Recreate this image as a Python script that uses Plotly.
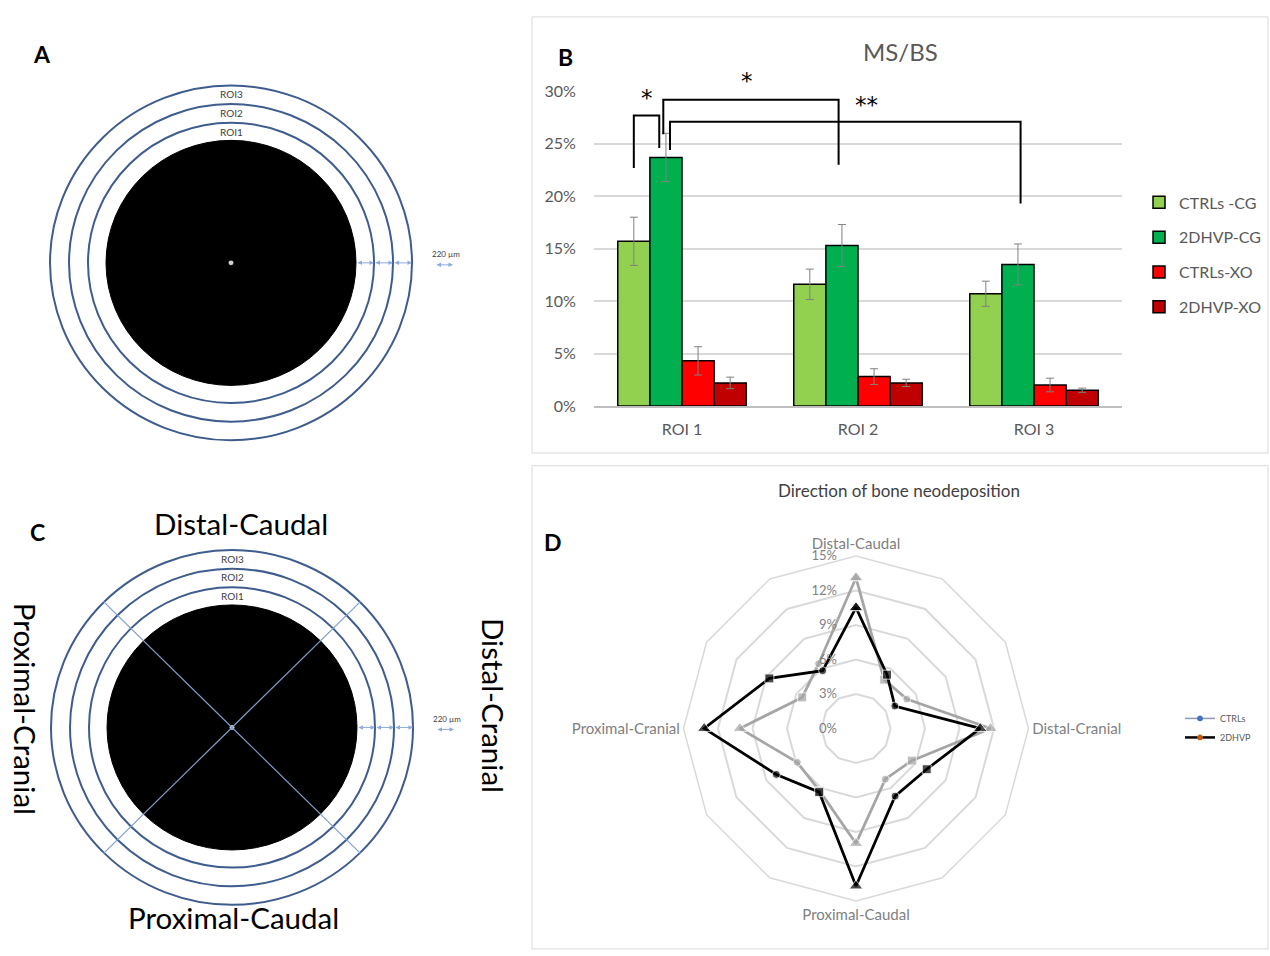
import plotly.graph_objects as go

W, H = 1270, 956
FONT = "Lato, Carlito, Calibri, sans-serif"

# ---------------- Panel B data ----------------
roi_labels = ["ROI 1", "ROI 2", "ROI 3"]
series_names = ["CTRLs -CG", "2DHVP-CG", "CTRLs-XO", "2DHVP-XO"]
ctrl_cg = [15.7, 11.6, 10.7]
ctrl_cg_err = [2.3, 1.45, 1.2]
dhvp_cg = [23.7, 15.3, 13.5]
dhvp_cg_err = [2.3, 2.0, 1.95]
ctrl_xo = [4.3, 2.8, 2.0]
ctrl_xo_err = [1.35, 0.75, 0.65]
dhvp_xo = [2.2, 2.2, 1.5]
dhvp_xo_err = [0.55, 0.35, 0.2]
bar_colors = ["#92d050", "#00b050", "#ff0000", "#c00000"]

# significance brackets: (roi, series) of left / right legs
sig_labels = ["*", "*", "**"]
sig_left = [(0, 0), (0, 1), (0, 1)]
sig_right = [(0, 1), (1, 1), (2, 1)]
sig_top = [27.7, 29.2, 27.1]
sig_left_end = [22.7, 25.9, 24.4]
sig_right_end = [24.6, 23.0, 19.3]

# ---------------- Panel D data ----------------
directions = ["Distal-Caudal", "d1", "d2", "Distal-Cranial", "d4", "d5",
              "Proximal-Caudal", "d7", "d8", "Proximal-Cranial", "d10", "d11"]
direction_labels = ["Distal-Caudal", "", "", "Distal-Cranial", "", "",
                    "Proximal-Caudal", "", "", "Proximal-Cranial", "", ""]
ctrls_radar = [13.1, 4.9, 5.1, 11.7, 5.6, 5.1, 10.0, 6.3, 5.9, 10.1, 5.4, 6.5]
dhvp_radar = [10.5, 5.4, 3.9, 10.8, 7.1, 6.8, 13.7, 6.4, 8.0, 13.2, 8.7, 5.8]
radar_symbols = ["triangle-up", "square", "circle"] * 4
radar_sizes = [12, 9, 8] * 4


def px(x):
    return x / W


def py(y):
    return 1 - y / H


fig = go.Figure()

# ---------------- Panel B: bars ----------------
series_vals = [ctrl_cg, dhvp_cg, ctrl_xo, dhvp_xo]
series_errs = [ctrl_cg_err, dhvp_cg_err, ctrl_xo_err, dhvp_xo_err]
for i, (name, vals, errs, col) in enumerate(zip(series_names, series_vals, series_errs, bar_colors)):
    fig.add_trace(go.Bar(
        x=roi_labels, y=vals, name=name, legendgroup=name,
        marker=dict(color=col, line=dict(color="black", width=1.5)),
        error_y=dict(type="data", array=errs, color="#808080", thickness=1, width=4),
        xaxis="x", yaxis="y", legend="legend",
    ))

BARGAP = 0.27
bw = (1 - BARGAP) / 4


def bar_x(roi, s):
    return roi + (s - 1.5) * bw


left_off = [0.0, -0.015, 0.023]
right_off = [-0.038, -0.019, 0.015]
star_pos = [0.5, 0.48, 0.56]
star_shift = [17, 19, 17]
shapes = []
annotations = []
for k in range(len(sig_labels)):
    xl = bar_x(*sig_left[k]) + left_off[k]
    xr = bar_x(*sig_right[k]) + right_off[k]
    yt = sig_top[k]
    path = f"M {xl},{sig_left_end[k]} L {xl},{yt} L {xr},{yt} L {xr},{sig_right_end[k]}"
    shapes.append(dict(type="path", path=path, xref="x", yref="y",
                       line=dict(color="black", width=2)))
    annotations.append(dict(x=xl + (xr - xl) * star_pos[k], y=yt, xref="x", yref="y",
                            text=sig_labels[k], showarrow=False, yanchor="middle",
                            xanchor="center", yshift=star_shift[k],
                            font=dict(size=23, color="black", family="DejaVu Sans")))

# ---------------- Panel D: radar ----------------
for name, vals, col in [("CTRLs", ctrls_radar, "#a5a5a5"), ("2DHVP", dhvp_radar, "black")]:
    fig.add_trace(go.Scatterpolar(
        r=vals + [vals[0]], theta=directions + [directions[0]],
        mode="lines+markers", name=name, showlegend=False,
        line=dict(color=col, width=2.75),
        marker=dict(symbol=radar_symbols + [radar_symbols[0]],
                    size=radar_sizes + [radar_sizes[0]], color=col),
        subplot="polar",
    ))
# legend entries of radar
for name, lcol, mcol in [("CTRLs", "#8c9bb5", "#4472c4"), ("2DHVP", "black", "#c55a11")]:
    fig.add_trace(go.Scatterpolar(
        r=[None], theta=[directions[0]], mode="lines+markers", name=name,
        line=dict(color=lcol, width=2.5 if name == "2DHVP" else 1.5),
        marker=dict(symbol="circle", size=5, color=mcol, line=dict(color=mcol, width=1)),
        subplot="polar", legend="legend2", showlegend=True,
    ))

# ---------------- Panels A & C: schematics ----------------
disk_r = 125
ring_radii = [143, 162, 181]
ring_names = ["ROI1", "ROI2", "ROI3"]
centers = {"A": (231, 258), "C": (232, 732)}
ring_col = "#3e5c8e"
arrow_col = "#8faadc"


def circle(cx, cy, r, **kw):
    return dict(type="circle", xref="paper", yref="paper",
                x0=px(cx - r), x1=px(cx + r), y0=py(cy + r), y1=py(cy - r), **kw)


for key, (cx, cy) in centers.items():
    for r in ring_radii:
        shapes.append(circle(cx, cy, r, line=dict(color=ring_col, width=2)))
    shapes.append(circle(cx, cy, disk_r, fillcolor="black", line=dict(color="black", width=1)))
    # ROI labels
    bounds = [disk_r] + ring_radii
    for i, nm in enumerate(ring_names):
        ylab = cy - (bounds[i + 1] - 9)
        annotations.append(dict(x=px(cx), y=py(ylab), text=nm,
                                font=dict(size=10, color="#404040", family=FONT)))
    # gap arrows
    for i in range(3):
        x0, x1 = cx + bounds[i], cx + bounds[i + 1]
        annotations.append(dict(x=px(x1), y=py(cy), ax=-(x1 - x0), ay=0, text="",
                                showarrow=True, arrowside="end+start", arrowhead=2,
                                arrowsize=0.9, arrowwidth=1, arrowcolor=arrow_col))
    # scale arrow + label
    sx = cx + 213
    annotations.append(dict(x=px(sx + 9), y=py(cy + 2), ax=-18, ay=0, text="",
                            showarrow=True, arrowside="end+start", arrowhead=2,
                            arrowsize=0.9, arrowwidth=1, arrowcolor=arrow_col))
    annotations.append(dict(x=px(sx + 2), y=py(cy - 9), text="220 µm",
                            font=dict(size=8, color="#404040", family=FONT)))
    # centre dot
    shapes.append(circle(cx, cy, 2.5, fillcolor="#d0d0d0", line=dict(color="#d0d0d0", width=0)))

# C: quadrant diagonals
cx, cy = centers["C"]
diag_len = 182
for sx_, sy_ in [(1, 1), (-1, 1), (1, -1), (-1, -1)]:
    d = diag_len / 2 ** 0.5
    shapes.append(dict(type="line", xref="paper", yref="paper",
                       x0=px(cx), y0=py(cy), x1=px(cx + sx_ * d), y1=py(cy + sy_ * d),
                       line=dict(color="#7f9fcc", width=1.2)))

# C direction labels
dir_font = dict(size=29.5, color="black", family=FONT)
annotations += [
    dict(x=px(241), y=py(524), text="Distal-Caudal", font=dir_font),
    dict(x=px(233), y=py(926), text="Proximal-Caudal", font=dir_font),
    dict(x=px(25), y=py(713), text="Proximal-Cranial", font=dir_font, textangle=90),
    dict(x=px(493), y=py(709), text="Distal-Cranial", font=dir_font, textangle=90),
]

# panel letters and titles
letter_font = dict(size=23, color="black", family=FONT)
for t, x, y in [("A", 42, 45), ("B", 565, 48), ("C", 37, 533), ("D", 553, 543)]:
    annotations.append(dict(x=px(x), y=py(y), text=f"<b>{t}</b>", font=letter_font))
annotations.append(dict(x=px(900), y=py(42), text="MS/BS",
                        font=dict(size=24, color="#595959", family=FONT)))
annotations.append(dict(x=px(899), y=py(490), text="Direction of bone neodeposition",
                        font=dict(size=17, color="#404040", family=FONT)))

for a in annotations:
    a.setdefault("xref", "paper")
    a.setdefault("yref", "paper")
    a.setdefault("showarrow", False)
    a.setdefault("xanchor", "center")
    a.setdefault("yanchor", "middle")

# panel frames
shapes.append(dict(type="rect", xref="paper", yref="paper", x0=px(532), x1=px(1268),
                   y0=py(452), y1=py(7), line=dict(color="#d9d9d9", width=1)))
shapes.append(dict(type="rect", xref="paper", yref="paper", x0=px(532), x1=px(1268),
                   y0=py(958), y1=py(465), line=dict(color="#d9d9d9", width=1)))

tick_font = dict(size=16, color="#595959", family=FONT)
fig.update_layout(
    width=W, height=H, margin=dict(l=0, r=0, t=0, b=0),
    paper_bgcolor="white", plot_bgcolor="white",
    font=dict(family=FONT),
    barmode="group", bargap=BARGAP, bargroupgap=0,
    xaxis=dict(domain=[px(594), px(1122)], showgrid=False, showline=True,
               linecolor="#bfbfbf", linewidth=1.5, ticks="outside", ticklen=8,
               tickcolor="rgba(0,0,0,0)", tickfont=tick_font, anchor="y"),
    yaxis=dict(domain=[py(404), py(83)], range=[0, 30], dtick=5, ticksuffix="%",
               gridcolor="#d9d9d9", gridwidth=1.5, zeroline=False, showline=False,
               ticks="outside", ticklen=14, tickcolor="rgba(0,0,0,0)",
               tickfont=tick_font, anchor="x"),
    legend=dict(x=px(1139), y=py(179), xanchor="left", yanchor="top",
                font=dict(size=16, color="#595959", family=FONT), itemwidth=30,
                tracegroupgap=11, bgcolor="rgba(0,0,0,0)"),
    legend2=dict(x=px(1180), y=py(708), xanchor="left", yanchor="top",
                 font=dict(size=9, color="#595959", family=FONT), itemwidth=30,
                 bgcolor="rgba(0,0,0,0)", tracegroupgap=2),
    polar=dict(
        domain=dict(x=[px(680), px(1032)], y=[py(909), py(557)]),
        bgcolor="rgba(0,0,0,0)", gridshape="linear",
        angularaxis=dict(direction="clockwise", rotation=90, type="category",
                         categoryarray=directions, tickmode="array",
                         tickvals=directions, ticktext=direction_labels,
                         showgrid=False, showline=True, linecolor="#d9d9d9", linewidth=1.5,
                         ticks="", tickfont=dict(size=15, color="#7f7f7f", family=FONT)),
        radialaxis=dict(range=[0, 15], dtick=3, ticksuffix="%", angle=90, tickangle=90,
                        side="counterclockwise", showline=False, ticks="outside",
                        ticklen=14, tickcolor="rgba(0,0,0,0)",
                        gridcolor="#d9d9d9", gridwidth=1.5,
                        tickfont=dict(size=13, color="#7f7f7f", family=FONT)),
    ),
    shapes=shapes, annotations=annotations,
)

post = ("document.body.style.margin='0';document.body.style.overflow='hidden';"
        "var d=document.getElementById('{plot_id}');d.style.position='absolute';"
        "d.style.left='0px';d.style.top='0px';")
fig.write_html("out.html", post_script=post, config={"displayModeBar": False})
